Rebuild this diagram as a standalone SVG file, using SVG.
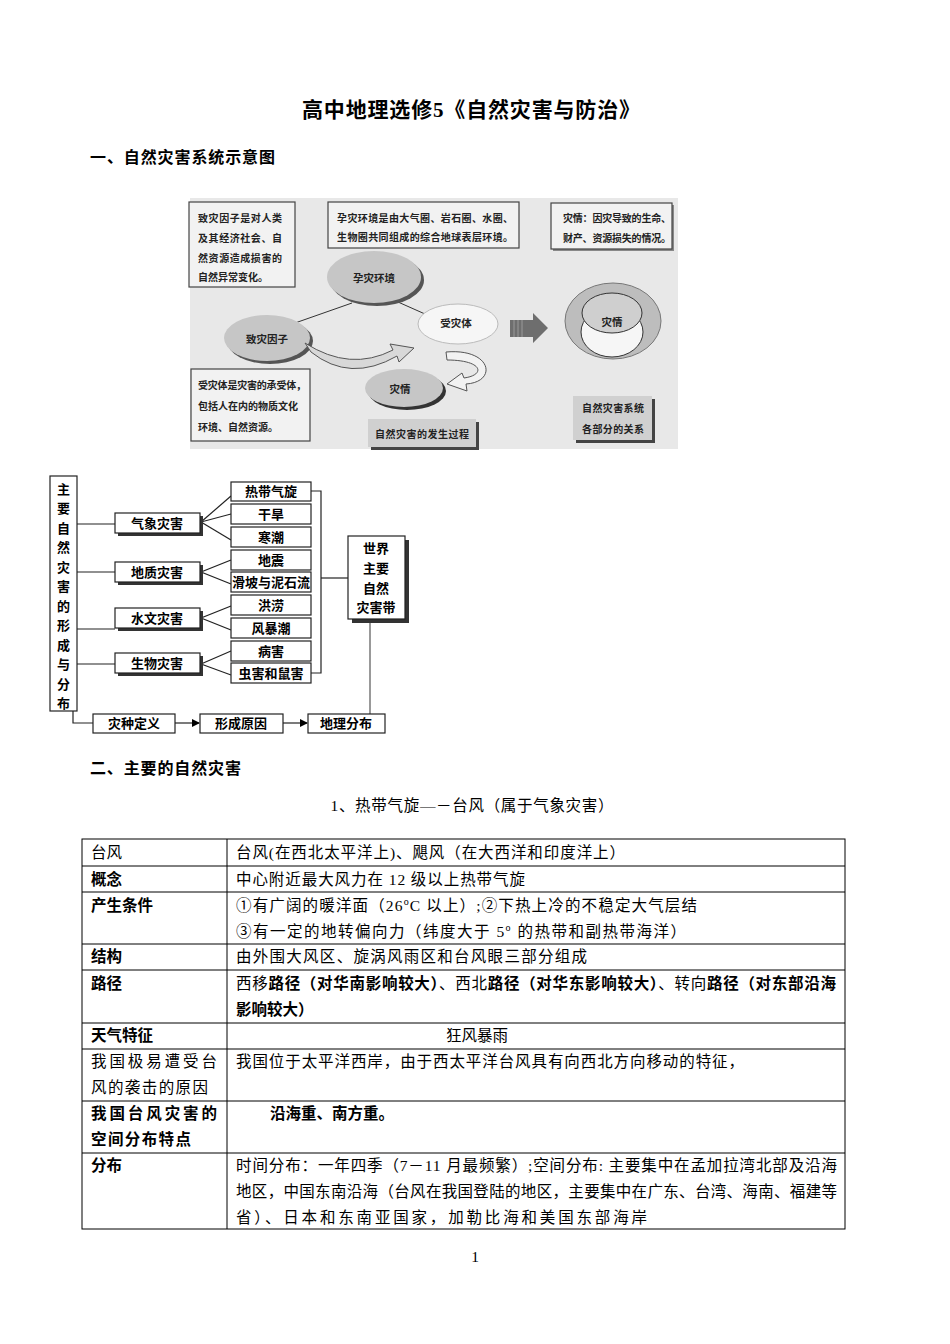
<svg xmlns="http://www.w3.org/2000/svg" width="950" height="1344" viewBox="0 0 950 1344">
<style>
.h{font-family:"Liberation Serif","Noto Sans CJK SC",serif;font-weight:bold;fill:#000}
.pic{font-family:"Noto Sans CJK SC",sans-serif;font-size:10px;font-weight:bold;fill:#222}
.pl{font-family:"Noto Sans CJK SC",sans-serif;font-size:10.5px;font-weight:bold;fill:#222;text-anchor:middle}
.pbox{fill:#f2f2f2;stroke:#444;stroke-width:1.2}
.tr{font-family:"Liberation Serif","Noto Sans CJK SC",serif;font-size:13px;font-weight:bold;fill:#000;text-anchor:middle}
.bx{fill:#fff;stroke:#222;stroke-width:1.2}
.sh{fill:#333}
.ln{stroke:#222;stroke-width:1.2;fill:none}
.tb{font-family:"Liberation Serif","Noto Sans CJK SC",serif;font-size:15.5px;fill:#000}
.b{font-weight:bold}
.grid{stroke:#000;stroke-width:1;fill:none}
</style>
<defs>
<marker id="ah" markerWidth="8" markerHeight="8" refX="7" refY="4" orient="auto" markerUnits="userSpaceOnUse">
<path d="M0,0 L8,4 L0,8 Z" fill="#000"/>
</marker>
</defs>

<text class="h" x="471" y="117" font-size="21" text-anchor="middle" textLength="338" lengthAdjust="spacing">高中地理选修5《自然灾害与防治》</text>
<text class="h" x="90" y="163" font-size="16" textLength="185" lengthAdjust="spacing">一、自然灾害系统示意图</text>

<g id="picture">
<rect x="190" y="198" width="488" height="251" fill="#e8e8e8"/>
<g id="box-zhizai">
<rect class="pbox" x="189" y="202" width="106" height="85"/>
<text class="pic" x="198" y="222" textLength="84" lengthAdjust="spacing">致灾因子是对人类</text>
<text class="pic" x="198" y="242" textLength="84" lengthAdjust="spacing">及其经济社会、自</text>
<text class="pic" x="198" y="262" textLength="84" lengthAdjust="spacing">然资源造成损害的</text>
<text class="pic" x="198" y="281">自然异常变化。</text>
</g>
<g id="box-yunzai">
<rect class="pbox" x="328" y="202" width="191" height="46"/>
<text class="pic" x="337" y="222" textLength="176" lengthAdjust="spacing">孕灾环境是由大气圈、岩石圈、水圈、</text>
<text class="pic" x="337" y="241" textLength="176" lengthAdjust="spacing">生物圈共同组成的综合地球表层环境。</text>
</g>
<g id="box-zaiqing">
<rect x="553" y="205" width="121" height="46" fill="#888"/>
<rect class="pbox" x="551" y="203" width="121" height="46"/>
<text class="pic" x="563" y="222" textLength="108" lengthAdjust="spacing">灾情：因灾导致的生命、</text>
<text class="pic" x="563" y="242" textLength="108" lengthAdjust="spacing">财产、资源损失的情况。</text>
</g>
<g id="box-shouzai">
<rect class="pbox" x="191" y="369" width="119" height="72"/>
<text class="pic" x="198" y="389" textLength="108" lengthAdjust="spacing">受灾体是灾害的承受体，</text>
<text class="pic" x="198" y="410" textLength="100" lengthAdjust="spacing">包括人在内的物质文化</text>
<text class="pic" x="198" y="431">环境、自然资源。</text>
</g>
<g id="links-pic">
<line x1="295" y1="323" x2="352" y2="303" stroke="#333" stroke-width="1"/>
<line x1="398" y1="302" x2="425" y2="314" stroke="#333" stroke-width="1"/>
</g>
<g id="el-yunzai">
<ellipse cx="377" cy="280" rx="47" ry="26" fill="#555"/>
<ellipse cx="374" cy="277" rx="47" ry="26" fill="#c6c6c6"/>
<text class="pl" x="374" y="282">孕灾环境</text>
</g>
<g id="el-zhizai">
<ellipse cx="270" cy="341" rx="43" ry="23" fill="#555"/>
<ellipse cx="267" cy="338" rx="43" ry="23" fill="#c6c6c6"/>
<text class="pl" x="267" y="343">致灾因子</text>
</g>
<g id="el-shouzai">
<ellipse cx="458" cy="324" rx="40" ry="20" fill="#f6f6f6" stroke="#bbb"/>
<text class="pl" x="456" y="327">受灾体</text>
</g>
<g id="el-zaiqing">
<ellipse cx="407" cy="391" rx="39" ry="19" fill="#333"/>
<ellipse cx="404" cy="388" rx="39" ry="19" fill="#c6c6c6"/>
<text class="pl" x="400" y="393">灾情</text>
</g>
<path d="M305,343 Q350,372 393,350 L390,344 L414,348 L399,362 L397,356 Q350,383 311,352 Z" fill="#d8d8d8" stroke="#555" stroke-width="1"/>
<path d="M446,352 C492,348 498,382 466,384 L467,391 L447,384 L462,373 L464,378 C486,375 483,360 447,360 Z" fill="#f2f2f2" stroke="#555" stroke-width="1"/>
<path d="M510,320 L533,320 L533,313 L548,328 L533,343 L533,337 L510,337 Z" fill="#6e6e6e"/>
<line x1="514" y1="320" x2="514" y2="337" stroke="#999" stroke-width="1"/>
<line x1="518" y1="320" x2="518" y2="337" stroke="#999" stroke-width="1"/>
<line x1="522" y1="320" x2="522" y2="337" stroke="#999" stroke-width="1"/>
<g id="el-relation">
<ellipse cx="613" cy="321" rx="48" ry="38" fill="#bdbdbd" stroke="#777"/>
<ellipse cx="612" cy="332" rx="31" ry="25" fill="#f6f6f6" stroke="#333"/>
<ellipse cx="612" cy="313" rx="30" ry="20" fill="#cfcfcf" stroke="#333"/>
<text class="pl" x="612" y="326">灾情</text>
</g>
<g id="lbl-process">
<rect x="371" y="422" width="108" height="28" fill="#444"/>
<rect x="368" y="419" width="108" height="28" fill="#d0d0d0"/>
<text class="pic" x="375" y="438" textLength="94" lengthAdjust="spacing">自然灾害的发生过程</text>
</g>
<g id="lbl-relation">
<rect x="576" y="399" width="79" height="44" fill="#444"/>
<rect x="573" y="396" width="79" height="44" fill="#d0d0d0"/>
<text class="pic" x="582" y="412" textLength="62" lengthAdjust="spacing">自然灾害系统</text>
<text class="pic" x="582" y="433" textLength="62" lengthAdjust="spacing">各部分的关系</text>
</g>
</g>

<g id="tree-connectors">
<line class="ln" x1="77" y1="524" x2="115" y2="524"/>
<line class="ln" x1="77" y1="572" x2="115" y2="572"/>
<line class="ln" x1="77" y1="629" x2="115" y2="629"/>
<line class="ln" x1="77" y1="664" x2="115" y2="664"/>
<line class="ln" x1="201" y1="522" x2="231" y2="496"/>
<line class="ln" x1="201" y1="522" x2="231" y2="514"/>
<line class="ln" x1="201" y1="522" x2="231" y2="540"/>
<line class="ln" x1="201" y1="572" x2="231" y2="560"/>
<line class="ln" x1="201" y1="572" x2="231" y2="584"/>
<line class="ln" x1="201" y1="618" x2="231" y2="606"/>
<line class="ln" x1="201" y1="618" x2="231" y2="630"/>
<line class="ln" x1="201" y1="664" x2="231" y2="651"/>
<line class="ln" x1="201" y1="664" x2="231" y2="675"/>
<polyline class="ln" points="311,491 321,491 321,673 311,673"/>
<line class="ln" x1="321" y1="578" x2="348" y2="578"/>
<line x1="370" y1="621" x2="370" y2="714" stroke="#777" stroke-width="1.5"/>
<polyline class="ln" points="73,711 73,723 93,723"/>
<line class="ln" x1="175" y1="723" x2="199" y2="723" marker-end="url(#ah)"/>
<line class="ln" x1="283" y1="723" x2="307" y2="723" marker-end="url(#ah)"/>
</g>

<g id="n-main">
<rect class="bx" x="50" y="476" width="27" height="235"/>
<text class="tr" x="63.5" y="494">主</text>
<text class="tr" x="63.5" y="513">要</text>
<text class="tr" x="63.5" y="533">自</text>
<text class="tr" x="63.5" y="552">然</text>
<text class="tr" x="63.5" y="572">灾</text>
<text class="tr" x="63.5" y="591">害</text>
<text class="tr" x="63.5" y="611">的</text>
<text class="tr" x="63.5" y="630">形</text>
<text class="tr" x="63.5" y="650">成</text>
<text class="tr" x="63.5" y="669">与</text>
<text class="tr" x="63.5" y="689">分</text>
<text class="tr" x="63.5" y="708">布</text>
</g>
<g id="n-qixiang"><rect class="sh" x="118" y="516" width="85" height="20"/><rect class="bx" x="115" y="513" width="85" height="20"/><text class="tr" x="157" y="528">气象灾害</text></g>
<g id="n-dizhi"><rect class="sh" x="118" y="565" width="85" height="20"/><rect class="bx" x="115" y="562" width="85" height="20"/><text class="tr" x="157" y="577">地质灾害</text></g>
<g id="n-shuiwen"><rect class="sh" x="118" y="611" width="85" height="20"/><rect class="bx" x="115" y="608" width="85" height="20"/><text class="tr" x="157" y="623">水文灾害</text></g>
<g id="n-shengwu"><rect class="sh" x="118" y="656" width="85" height="20"/><rect class="bx" x="115" y="653" width="85" height="20"/><text class="tr" x="157" y="668">生物灾害</text></g>

<g id="n-redai"><rect class="bx" x="231" y="482" width="80" height="19"/><text class="tr" x="271" y="496">热带气旋</text></g>
<g id="n-ganhan"><rect class="bx" x="231" y="504" width="80" height="20"/><text class="tr" x="271" y="519">干旱</text></g>
<g id="n-hanchao"><rect class="bx" x="231" y="527" width="80" height="20"/><text class="tr" x="271" y="542">寒潮</text></g>
<g id="n-dizhen"><rect class="bx" x="231" y="550" width="80" height="20"/><text class="tr" x="271" y="565">地震</text></g>
<g id="n-huapo"><rect class="bx" x="231" y="572" width="80" height="20" stroke="#666"/><text class="tr" x="271" y="587">滑坡与泥石流</text></g>
<g id="n-honglao"><rect class="bx" x="231" y="595" width="80" height="20"/><text class="tr" x="271" y="610">洪涝</text></g>
<g id="n-fengbao"><rect class="bx" x="231" y="618" width="80" height="20"/><text class="tr" x="271" y="633">风暴潮</text></g>
<g id="n-binghai"><rect class="bx" x="231" y="641" width="80" height="20"/><text class="tr" x="271" y="656">病害</text></g>
<g id="n-chonghai"><rect class="bx" x="231" y="663" width="80" height="20"/><text class="tr" x="271" y="678">虫害和鼠害</text></g>

<g id="n-shijie">
<rect class="sh" x="352" y="540" width="57" height="83"/>
<rect class="bx" x="348" y="536" width="57" height="83"/>
<text class="tr" x="376" y="553">世界</text>
<text class="tr" x="376" y="573">主要</text>
<text class="tr" x="376" y="593">自然</text>
<text class="tr" x="376" y="612">灾害带</text>
</g>
<g id="n-dingyi"><rect class="bx" x="93" y="714" width="82" height="19"/><text class="tr" x="134" y="728">灾种定义</text></g>
<g id="n-yuanyin"><rect class="bx" x="200" y="714" width="83" height="19"/><text class="tr" x="241" y="728">形成原因</text></g>
<g id="n-fenbu"><rect class="bx" x="308" y="714" width="77" height="19"/><text class="tr" x="346" y="728">地理分布</text></g>

<text class="h" x="90" y="774" font-size="16" textLength="151" lengthAdjust="spacing">二、主要的自然灾害</text>
<text class="tb" x="472" y="811" text-anchor="middle" textLength="283" lengthAdjust="spacing">1、热带气旋—－台风（属于气象灾害）</text>

<g id="table">
<rect class="grid" x="82" y="839" width="763" height="390"/>
<line class="grid" x1="227" y1="839" x2="227" y2="1229"/>
<line class="grid" x1="82" y1="866" x2="845" y2="866"/>
<line class="grid" x1="82" y1="892" x2="845" y2="892"/>
<line class="grid" x1="82" y1="944" x2="845" y2="944"/>
<line class="grid" x1="82" y1="970" x2="845" y2="970"/>
<line class="grid" x1="82" y1="1023" x2="845" y2="1023"/>
<line class="grid" x1="82" y1="1049" x2="845" y2="1049"/>
<line class="grid" x1="82" y1="1101" x2="845" y2="1101"/>
<line class="grid" x1="82" y1="1153" x2="845" y2="1153"/>

<text class="tb" x="91" y="858">台风</text>
<text class="tb" x="236" y="858" textLength="389" lengthAdjust="spacing">台风(在西北太平洋上)、飓风（在大西洋和印度洋上）</text>

<text class="tb b" x="91" y="885">概念</text>
<text class="tb" x="236" y="885" textLength="289" lengthAdjust="spacing">中心附近最大风力在 12 级以上热带气旋</text>

<text class="tb b" x="91" y="911">产生条件</text>
<text class="tb" x="236" y="911" textLength="461" lengthAdjust="spacing">①有广阔的暖洋面（26<tspan font-size="10" dy="-6">o</tspan><tspan dy="6">C 以上）;②下热上冷的不稳定大气层结</tspan></text>
<text class="tb" x="236" y="937" textLength="450" lengthAdjust="spacing">③有一定的地转偏向力（纬度大于 5<tspan font-size="10" dy="-6">o</tspan><tspan dy="6"> 的热带和副热带海洋）</tspan></text>

<text class="tb b" x="91" y="962">结构</text>
<text class="tb" x="236" y="962" textLength="351" lengthAdjust="spacing">由外围大风区、旋涡风雨区和台风眼三部分组成</text>

<text class="tb b" x="91" y="989">路径</text>
<text class="tb" x="236" y="989" textLength="600" lengthAdjust="spacing">西移<tspan class="b">路径（对华南影响较大）</tspan>、西北<tspan class="b">路径（对华东影响较大）</tspan>、转向<tspan class="b">路径（对东部沿海</tspan></text>
<text class="tb b" x="236" y="1015">影响较大）</text>

<text class="tb b" x="91" y="1041">天气特征</text>
<text class="tb" x="446" y="1041">狂风暴雨</text>

<text class="tb" x="91" y="1067" textLength="126" lengthAdjust="spacing">我国极易遭受台</text>
<text class="tb" x="91" y="1093" textLength="117" lengthAdjust="spacing">风的袭击的原因</text>
<text class="tb" x="236" y="1067" textLength="508" lengthAdjust="spacing">我国位于太平洋西岸，由于西太平洋台风具有向西北方向移动的特征，</text>

<text class="tb b" x="91" y="1119" textLength="126" lengthAdjust="spacing">我国台风灾害的</text>
<text class="tb b" x="91" y="1145" textLength="100" lengthAdjust="spacing">空间分布特点</text>
<text class="tb b" x="270" y="1119">沿海重、南方重。</text>

<text class="tb b" x="91" y="1171">分布</text>
<text class="tb" x="236" y="1171" textLength="601" lengthAdjust="spacing">时间分布：一年四季（7－11 月最频繁）;空间分布: 主要集中在孟加拉湾北部及沿海</text>
<text class="tb" x="236" y="1197" textLength="601" lengthAdjust="spacing">地区，中国东南沿海（台风在我国登陆的地区，主要集中在广东、台湾、海南、福建等</text>
<text class="tb" x="236" y="1223" textLength="411" lengthAdjust="spacing">省）、日本和东南亚国家，加勒比海和美国东部海岸</text>
</g>

<text class="tb" x="475" y="1262" font-size="12" text-anchor="middle">1</text>
</svg>
